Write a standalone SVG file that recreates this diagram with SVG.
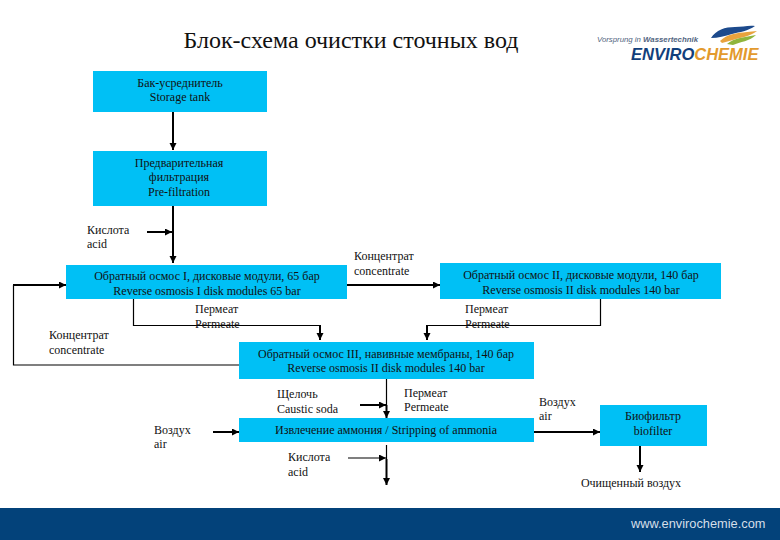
<svg xmlns="http://www.w3.org/2000/svg" width="780" height="540" viewBox="0 0 780 540">
<style>
text{font-family:"Liberation Serif","Times New Roman",serif;font-size:12px;fill:#111}
.m{text-anchor:middle}
.b{fill:#00c0f5}
.t{fill:none;stroke:#000;stroke-width:2}
.n{fill:none;stroke:#000;stroke-width:1.2}
</style>
<defs>
<marker id="a" markerUnits="userSpaceOnUse" markerWidth="8" markerHeight="8" refX="7" refY="3.5" orient="auto"><path d="M0 0L7 3.5L0 7z" fill="#000"/></marker>
</defs>
<rect width="780" height="540" fill="#fff"/>
<text id="title" x="351" y="48" class="m" style="font-size:24px">Блок-схема очистки сточных вод</text>
<g id="logo">
<path d="M711 38C716 30 725 27 735 27C742 27 749 25 755 26C748 31 740 32 732 34C725 36 718 38 711 38z" fill="#1c4a8c"/>
<path d="M720 41C727 34 737 33 747 32L757 31C749 37 741 37 733 40L722 43z" fill="#e8a33d"/>
<path d="M727 44C734 38 745 37 756 35C750 41 740 42 733 45z" fill="#8fb53c"/>
<text x="597" y="42" style="font-family:'Liberation Sans',sans-serif;font-size:7.800px;font-style:italic;fill:#52657f">Vorsprung in <tspan font-weight="700">Wassertechnik</tspan></text>
<text x="631" y="60" style="font-family:'Liberation Sans',sans-serif;font-size:16.500px;font-weight:700;font-style:italic;fill:#123f7c">ENVIRO<tspan fill="#e39a2d">CHEMIE</tspan></text>
</g>
<g id="connectors">
<path class="t" d="M173 112V150" marker-end="url(#a)"/>
<path class="t" d="M173 206V263" marker-end="url(#a)"/>
<path class="t" d="M147 232H172" marker-end="url(#a)"/>
<path class="n" d="M239 365H13.500V285"/>
<path class="t" d="M13 285H66" marker-end="url(#a)"/>
<path class="n" d="M133.500 299V325.500H320"/>
<path class="t" d="M320 325V340" marker-end="url(#a)"/>
<path class="t" d="M347 285H440" marker-end="url(#a)"/>
<path class="n" d="M600.500 299V325.500H427"/>
<path class="t" d="M427 325V340" marker-end="url(#a)"/>
<path class="n" d="M386.500 379V405"/>
<path class="t" d="M386.500 405V418" marker-end="url(#a)"/>
<path class="t" d="M360 405H386" marker-end="url(#a)"/>
<path class="t" d="M213 432H239" marker-end="url(#a)"/>
<path class="n" d="M386.500 445V459"/>
<path class="t" d="M386.500 459V485" marker-end="url(#a)"/>
<path class="n" d="M348 458H386" marker-end="url(#a)"/>
<path class="t" d="M534 432H600" marker-end="url(#a)"/>
<path class="t" d="M640 446V472" marker-end="url(#a)"/>
</g>
<g id="tank"><rect class="b" x="93" y="71" width="174" height="41"/><text class="m" x="180" y="87">Бак-усреднитель</text><text class="m" x="180" y="101">Storage tank</text></g>
<g id="prefilter"><rect class="b" x="93" y="151" width="174" height="55"/><text class="m" x="179" y="167">Предварительная</text><text class="m" x="179" y="181">фильтрация</text><text class="m" x="179" y="196">Pre-filtration</text></g>
<g id="ro1"><rect class="b" x="66" y="265" width="281" height="34"/><text class="m" x="207" y="280">Обратный осмос I, дисковые модули, 65 бар</text><text class="m" x="207" y="295">Reverse osmosis I disk modules 65 bar</text></g>
<g id="ro2"><rect class="b" x="440" y="263" width="281" height="36"/><text class="m" x="581" y="279">Обратный осмос II, дисковые модули, 140 бар</text><text class="m" x="581" y="294">Reverse osmosis II disk modules 140 bar</text></g>
<g id="ro3"><rect class="b" x="239" y="342" width="295" height="37"/><text class="m" x="386" y="358">Обратный осмос III, навивные мембраны, 140 бар</text><text class="m" x="386" y="372">Reverse osmosis II disk modules 140 bar</text></g>
<g id="stripping"><rect class="b" x="239" y="418" width="295" height="24"/><text class="m" x="386" y="434">Извлечение аммония / Stripping of ammonia</text></g>
<g id="biofilter"><rect class="b" x="600" y="405" width="107" height="41"/><text class="m" x="653" y="420">Биофильтр</text><text class="m" x="653" y="435">biofilter</text></g>
<g id="labels">
<text x="87" y="234">Кислота</text><text x="87" y="248">acid</text>
<text x="354" y="260">Концентрат</text><text x="354" y="275">concentrate</text>
<text x="195" y="313">Пермеат</text><text x="195" y="328">Permeate</text>
<text x="465" y="313">Пермеат</text><text x="465" y="328">Permeate</text>
<text x="49" y="339">Концентрат</text><text x="49" y="354">concentrate</text>
<text x="277" y="398">Щелочь</text><text x="277" y="413">Caustic soda</text>
<text x="404" y="397">Пермеат</text><text x="404" y="411">Permeate</text>
<text x="154" y="434">Воздух</text><text x="154" y="448">air</text>
<text x="288" y="461">Кислота</text><text x="288" y="476">acid</text>
<text x="539" y="406">Воздух</text><text x="539" y="420">air</text>
<text class="m" x="631" y="487">Очищенный воздух</text>
</g>
<g id="footer"><rect y="508" width="780" height="32" fill="#03427a"/><text x="631" y="528" style="font-family:'Liberation Sans',sans-serif;font-size:12.800px;fill:#d5dfe9">www.envirochemie.com</text></g>
</svg>
